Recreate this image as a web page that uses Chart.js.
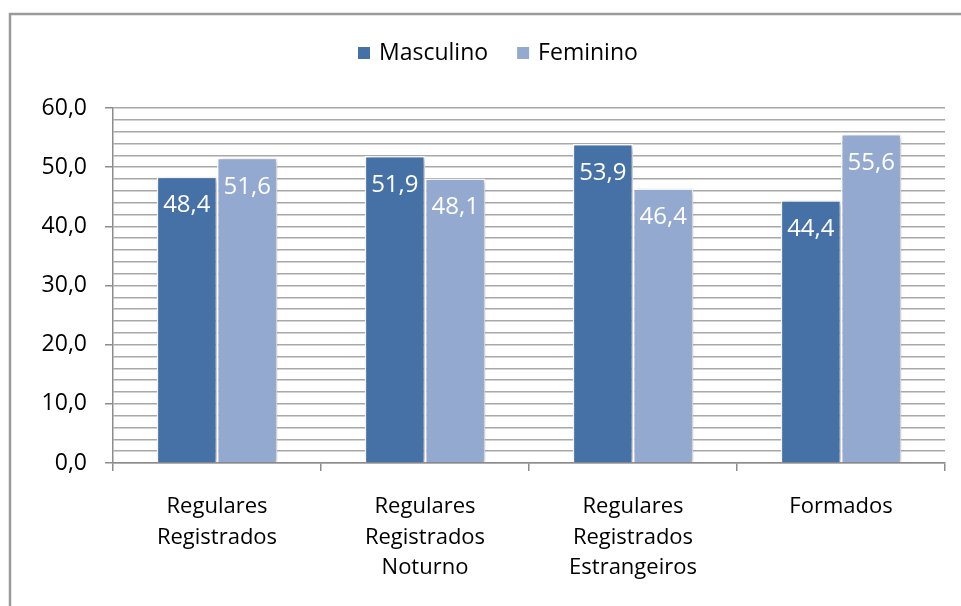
<!DOCTYPE html>
<html>
<head>
<meta charset="utf-8">
<script src="https://cdn.jsdelivr.net/npm/chart.js@4/dist/chart.umd.min.js"></script>
<style>
  html, body { margin: 0; padding: 0; background: #fff; }
  #wrap { width: 961px; height: 606px; position: relative; }
</style>
</head>
<body>
<div id="wrap"><canvas id="grafico" width="961" height="606"></canvas></div>
<script>
// Dados do gráfico
const categorias = [
  ['Regulares', 'Registrados'],
  ['Regulares', 'Registrados', 'Noturno'],
  ['Regulares', 'Registrados', 'Estrangeiros'],
  ['Formados']
];
const masculino = [48.4, 51.9, 53.9, 44.4];
const feminino = [51.6, 48.1, 46.4, 55.6];
const nomesSeries = ['Masculino', 'Feminino'];
const coresSeries = ['#4571A6', '#94A9CF'];

const FONTE = '"Open Sans", Lato, sans-serif';

const fmt = v => v.toFixed(1).replace('.', ',');

// Moldura externa (estilo Excel)
const moldura = {
  id: 'moldura',
  afterDraw(chart) {
    const ctx = chart.ctx;
    ctx.save();
    ctx.strokeStyle = '#9a9a9a';
    ctx.lineWidth = 2.5;
    ctx.strokeRect(10, 14, 1000, 700);
    ctx.restore();
  }
};

// Legenda desenhada à mão
const legenda = {
  id: 'legenda',
  afterDraw(chart) {
    const ctx = chart.ctx;
    ctx.save();
    ctx.font = '23px ' + FONTE;
    ctx.textBaseline = 'middle';
    ctx.textAlign = 'left';
    let x = 358;
    const y = 53;
    chart.data.datasets.forEach(ds => {
      ctx.fillStyle = ds.backgroundColor;
      ctx.fillRect(x, y - 6, 12, 12);
      ctx.fillStyle = '#000';
      ctx.fillText(ds.label, x + 21, y);
      x += 21 + ctx.measureText(ds.label).width + 29;
    });
    ctx.restore();
  }
};

// Rótulos brancos dentro das barras
const rotulos = {
  id: 'rotulos',
  afterDatasetsDraw(chart) {
    const ctx = chart.ctx;
    ctx.save();
    ctx.font = '24px ' + FONTE;
    ctx.fillStyle = '#fff';
    ctx.textAlign = 'center';
    ctx.textBaseline = 'middle';
    chart.data.datasets.forEach((ds, i) => {
      chart.getDatasetMeta(i).data.forEach((bar, j) => {
        ctx.fillText(fmt(ds.data[j]), bar.x, bar.y + 29);
      });
    });
    ctx.restore();
  }
};

// Sombra leve nas barras
const sombra = {
  id: 'sombra',
  beforeDatasetsDraw(chart) {
    const ctx = chart.ctx;
    ctx.save();
    ctx.shadowColor = 'rgba(0,0,0,0.28)';
    ctx.shadowBlur = 5;
    ctx.shadowOffsetX = 2;
    ctx.shadowOffsetY = 1;
  },
  afterDatasetsDraw(chart) {
    chart.ctx.restore();
  }
};

new Chart(document.getElementById('grafico'), {
  type: 'bar',
  data: {
    labels: categorias,
    datasets: [
      { label: nomesSeries[0], data: masculino, backgroundColor: coresSeries[0] },
      { label: nomesSeries[1], data: feminino, backgroundColor: coresSeries[1] }
    ]
  },
  options: {
    responsive: false,
    animation: false,
    layout: { padding: { left: 12, right: 16, top: 108, bottom: 0 } },
    datasets: {
      bar: {
        borderColor: '#ffffff',
        borderWidth: 1.5,
        categoryPercentage: 0.58,
        barPercentage: 1.0
      }
    },
    plugins: {
      legend: { display: false },
      tooltip: { enabled: false }
    },
    scales: {
      x: {
        afterFit: s => { s.height = 143; },
        grid: {
          drawOnChartArea: false,
          drawTicks: true,
          tickLength: 8,
          color: '#8c8c8c',
          lineWidth: 1.5
        },
        border: { color: '#8c8c8c', width: 1.5 },
        ticks: {
          color: '#000',
          padding: 21,
          font: { family: FONTE, size: 22, lineHeight: 1.38 },
          maxRotation: 0,
          autoSkip: false
        }
      },
      y: {
        min: 0,
        max: 60,
        afterFit: s => { s.width = 101; },
        border: { color: '#8c8c8c', width: 1.5 },
        grid: {
          color: '#a8a8a8',
          lineWidth: 1.5,
          tickLength: 8,
          tickColor: c => (c.tick && c.tick.value % 10 === 0) ? '#8c8c8c' : 'rgba(0,0,0,0)'
        },
        ticks: {
          stepSize: 2,
          color: '#000',
          padding: 18,
          font: { family: FONTE, size: 23 },
          autoSkip: false,
          callback: v => (v % 10 === 0) ? fmt(v) : ''
        }
      }
    }
  },
  plugins: [sombra, rotulos, legenda, moldura]
});
</script>
</body>
</html>
